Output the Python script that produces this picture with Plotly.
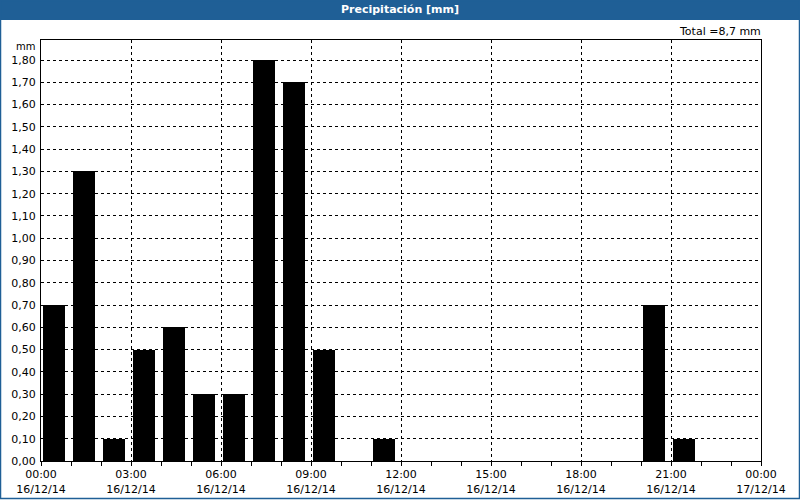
import plotly.graph_objects as go

hours = list(range(24))
precip = [0.7, 1.3, 0.1, 0.5, 0.6, 0.3, 0.3, 1.8, 1.7, 0.5, 0.0, 0.1,
          0.0, 0.0, 0.0, 0.0, 0.0, 0.0, 0.0, 0.0, 0.7, 0.1, 0.0, 0.0]
x_tickvals = [0, 3, 6, 9, 12, 15, 18, 21, 24]
x_ticktext = ["00:00<br>16/12/14", "03:00<br>16/12/14", "06:00<br>16/12/14",
              "09:00<br>16/12/14", "12:00<br>16/12/14", "15:00<br>16/12/14",
              "18:00<br>16/12/14", "21:00<br>16/12/14", "00:00<br>17/12/14"]
y_tickvals = [i / 10 for i in range(19)]
y_ticktext = [f"{v:.2f}".replace(".", ",") for v in y_tickvals]
title = "Precipitación [mm]"
total_text = "Total =8,7 mm"

FONT = "DejaVu Sans"
BLUE = "#1f5f96"

L, R, T, B = 41, 39, 40, 39
W, H = 800, 500
pw, ph = W - L - R, H - T - B

def px(xp):
    return (xp - L) / pw

def py(yp):
    return (H - B - yp) / ph

fig = go.Figure()
fig.add_trace(go.Bar(x=hours, y=precip, width=0.73, offset=0.067,
                     marker=dict(color="black", line=dict(width=0)),
                     hoverinfo="skip"))

fig.update_layout(
    width=W, height=H,
    margin=dict(l=L, r=R, t=T, b=B, pad=0, autoexpand=False),
    paper_bgcolor="white", plot_bgcolor="white",
    showlegend=False,
    bargap=0,
    font=dict(family=FONT, size=11, color="black"),
    xaxis=dict(range=[0, 24], tickvals=x_tickvals, ticktext=x_ticktext,
               showgrid=True, gridcolor="black", griddash="3px,3px", gridwidth=1,
               zeroline=False, showline=True, linecolor="black", linewidth=1,
               mirror=True, ticks="", tickfont=dict(family=FONT, size=11),
               automargin=False, ticklabelstandoff=3,
               minor=dict(dtick=1, ticks="outside", ticklen=4, tickcolor="black",
                          showgrid=False, tick0=0)),
    yaxis=dict(range=[0, 1.89], tickvals=y_tickvals, ticktext=y_ticktext,
               showgrid=True, gridcolor="black", griddash="3px,3px", gridwidth=1,
               zeroline=False, showline=True, linecolor="black", linewidth=1,
               mirror=True, ticks="outside", ticklen=2, tickcolor="rgba(0,0,0,0)",
               automargin=False,
               tickfont=dict(family=FONT, size=11)),
)

# title bar
fig.add_shape(type="rect", xref="paper", yref="paper",
              x0=px(0), x1=px(W), y0=py(20), y1=py(0),
              fillcolor=BLUE, line=dict(width=0), layer="above")
# frame
fig.add_shape(type="rect", xref="paper", yref="paper",
              x0=px(0.5), x1=px(W - 0.5), y0=py(H - 1.5), y1=py(0.5),
              fillcolor="rgba(0,0,0,0)", line=dict(color=BLUE, width=1.5), layer="above")

fig.add_annotation(text="<b>" + title + "</b>", xref="paper", yref="paper",
                   x=px(W / 2), y=py(10), showarrow=False, xanchor="center", yanchor="middle",
                   font=dict(family=FONT, size=11, color="white"))
fig.add_annotation(text=total_text, xref="paper", yref="paper",
                   x=px(763), y=py(32), showarrow=False, xanchor="right", yanchor="middle",
                   font=dict(family=FONT, size=11, color="black"))
fig.add_annotation(text="mm", xref="paper", yref="paper",
                   x=px(37), y=py(46), showarrow=False, xanchor="right", yanchor="middle",
                   font=dict(family=FONT, size=10, color="black"))

fig.write_html("out.html")
